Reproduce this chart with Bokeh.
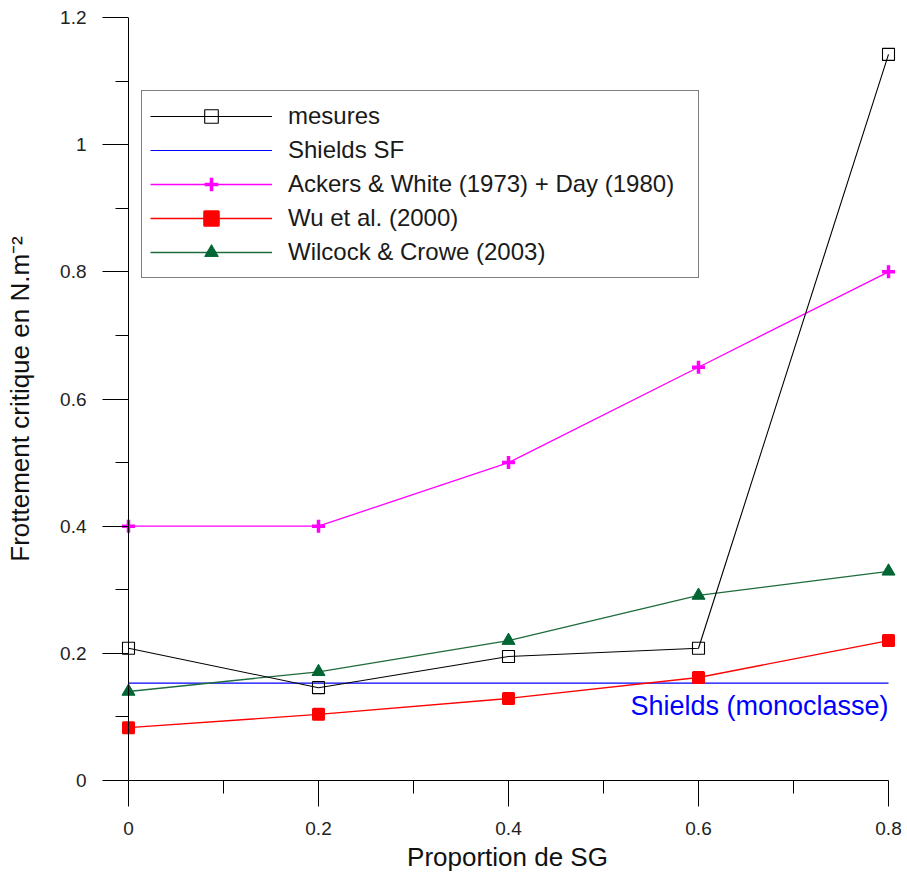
from bokeh.plotting import figure
from bokeh.models import Range1d, FixedTicker, Legend, LegendItem, Label, Span
from bokeh.embed import file_html
from bokeh.resources import INLINE

# ---- data ----
x = [0.0, 0.2, 0.4, 0.6, 0.8]
mesures = [0.208, 0.146, 0.195, 0.208, 1.142]
shields_x = [0.0, 0.8]
shields_sf = [0.153, 0.153]
ackers_white_day = [0.40, 0.40, 0.50, 0.65, 0.80]
wu_2000 = [0.083, 0.104, 0.129, 0.162, 0.220]
wilcock_crowe = [0.140, 0.171, 0.220, 0.291, 0.329]

x_ticks = [0.0, 0.2, 0.4, 0.6, 0.8]
x_minor = [0.1, 0.3, 0.5, 0.7]
x_tick_labels = ["0", "0.2", "0.4", "0.6", "0.8"]
y_ticks = [0.0, 0.2, 0.4, 0.6, 0.8, 1.0, 1.2]
y_minor = [0.1, 0.3, 0.5, 0.7, 0.9, 1.1]
y_tick_labels = ["0", "0.2", "0.4", "0.6", "0.8", "1", "1.2"]

FONT = "Liberation Sans"

p = figure(width=907, height=877,
           x_range=Range1d(-10 / 950, 0.8 + 8 / 950),
           y_range=Range1d(0, 1.2),
           min_border_left=118, min_border_right=11,
           min_border_top=17, min_border_bottom=97,
           output_backend="svg", toolbar_location=None)
p.outline_line_color = None
p.xgrid.visible = False
p.ygrid.visible = False
p.background_fill_color = "white"
p.border_fill_color = "white"

# x axis (sits at y = 0, the bottom of the frame)
xa = p.xaxis[0]
xa.ticker = FixedTicker(ticks=x_ticks, minor_ticks=x_minor)
xa.major_label_overrides = dict(zip(x_ticks, x_tick_labels))
xa.bounds = (x_ticks[0], x_ticks[-1])
xa.major_tick_out = 26
xa.major_tick_in = 0
xa.minor_tick_out = 13
xa.minor_tick_in = 0
xa.major_label_standoff = 15
xa.major_label_text_font = FONT
xa.major_label_text_font_size = "19px"
xa.major_label_text_color = "#222222"
xa.axis_label = "Proportion de SG"
xa.axis_label_text_font = FONT
xa.axis_label_text_font_style = "normal"
xa.axis_label_text_font_size = "26px"
xa.axis_label_text_color = "#111111"
xa.axis_label_standoff = 4
xa.axis_line_color = "black"

# y axis: ticks reach from x = 0 (10 px inside the frame) outward
ya = p.yaxis[0]
ya.ticker = FixedTicker(ticks=y_ticks, minor_ticks=y_minor)
ya.major_label_overrides = dict(zip(y_ticks, y_tick_labels))
ya.axis_line_color = None
ya.major_tick_out = 16
ya.major_tick_in = 10
ya.minor_tick_out = 3
ya.minor_tick_in = 10
ya.major_label_standoff = 16
ya.major_label_text_font = FONT
ya.major_label_text_font_size = "19px"
ya.major_label_text_color = "#222222"
ya.axis_label = "Frottement critique en N.m\u207b\u00b2"
ya.axis_label_text_font = FONT
ya.axis_label_text_font_style = "normal"
ya.axis_label_text_font_size = "26px"
ya.axis_label_text_color = "#111111"
ya.axis_label_standoff = 22

for a in (xa, ya):
    a.major_tick_line_color = "black"
    a.minor_tick_line_color = "black"

# vertical axis line at x = 0
p.add_layout(Span(location=x_ticks[0], dimension="height", line_color="black", line_width=1))

# series
l_sh = p.line(shields_x, shields_sf, line_color="#0000FF", line_width=1.2)

l_aw = p.line(x, ackers_white_day, line_color="#FF00FF", line_width=1.3)
s_aw = p.scatter(x, ackers_white_day, marker="cross", size=13, line_color="#FF00FF", line_width=3.5)

l_wu = p.line(x, wu_2000, line_color="#FF0000", line_width=1.3)
s_wu = p.scatter(x, wu_2000, marker="square", size=10, fill_color="#FF0000",
                 line_color="#FF0000", line_width=3, line_join="round")

l_wc = p.line(x, wilcock_crowe, line_color="#1E6B3C", line_width=1.3)
s_wc = p.scatter(x, wilcock_crowe, marker="triangle", size=13, fill_color="#006633",
                 line_color="#006633", line_width=1)

l_me = p.line(x, mesures, line_color="#000000", line_width=1.1)
s_me = p.scatter(x, mesures, marker="square", size=12, fill_color="white", fill_alpha=0.0,
                 line_color="#000000", line_width=1.1)

legend = Legend(items=[
    LegendItem(label="mesures", renderers=[l_me, s_me]),
    LegendItem(label="Shields SF", renderers=[l_sh]),
    LegendItem(label="Ackers & White (1973) + Day (1980)", renderers=[l_aw, s_aw]),
    LegendItem(label="Wu et al. (2000)", renderers=[l_wu, s_wu]),
    LegendItem(label="Wilcock & Crowe (2003)", renderers=[l_wc, s_wc]),
], location=(23, 502))
legend.border_line_color = "black"
legend.border_line_width = 1
legend.background_fill_color = "white"
legend.background_fill_alpha = 1.0
legend.label_text_font = FONT
legend.label_text_font_size = "24px"
legend.label_text_color = "#1a1a1a"
legend.glyph_width = 122
legend.glyph_height = 34
legend.label_height = 34
legend.label_width = 402
legend.label_standoff = 16
legend.padding = 8
legend.spacing = 0
legend.margin = 0
p.add_layout(legend)

lab = Label(x=shields_x[-1], y=shields_sf[-1], y_offset=-23, text="Shields (monoclasse)",
            text_align="right", text_baseline="middle", text_color="#0000FF",
            text_font=FONT, text_font_size="27px")
p.add_layout(lab)

open("out.html", "w").write(file_html(p, INLINE))
